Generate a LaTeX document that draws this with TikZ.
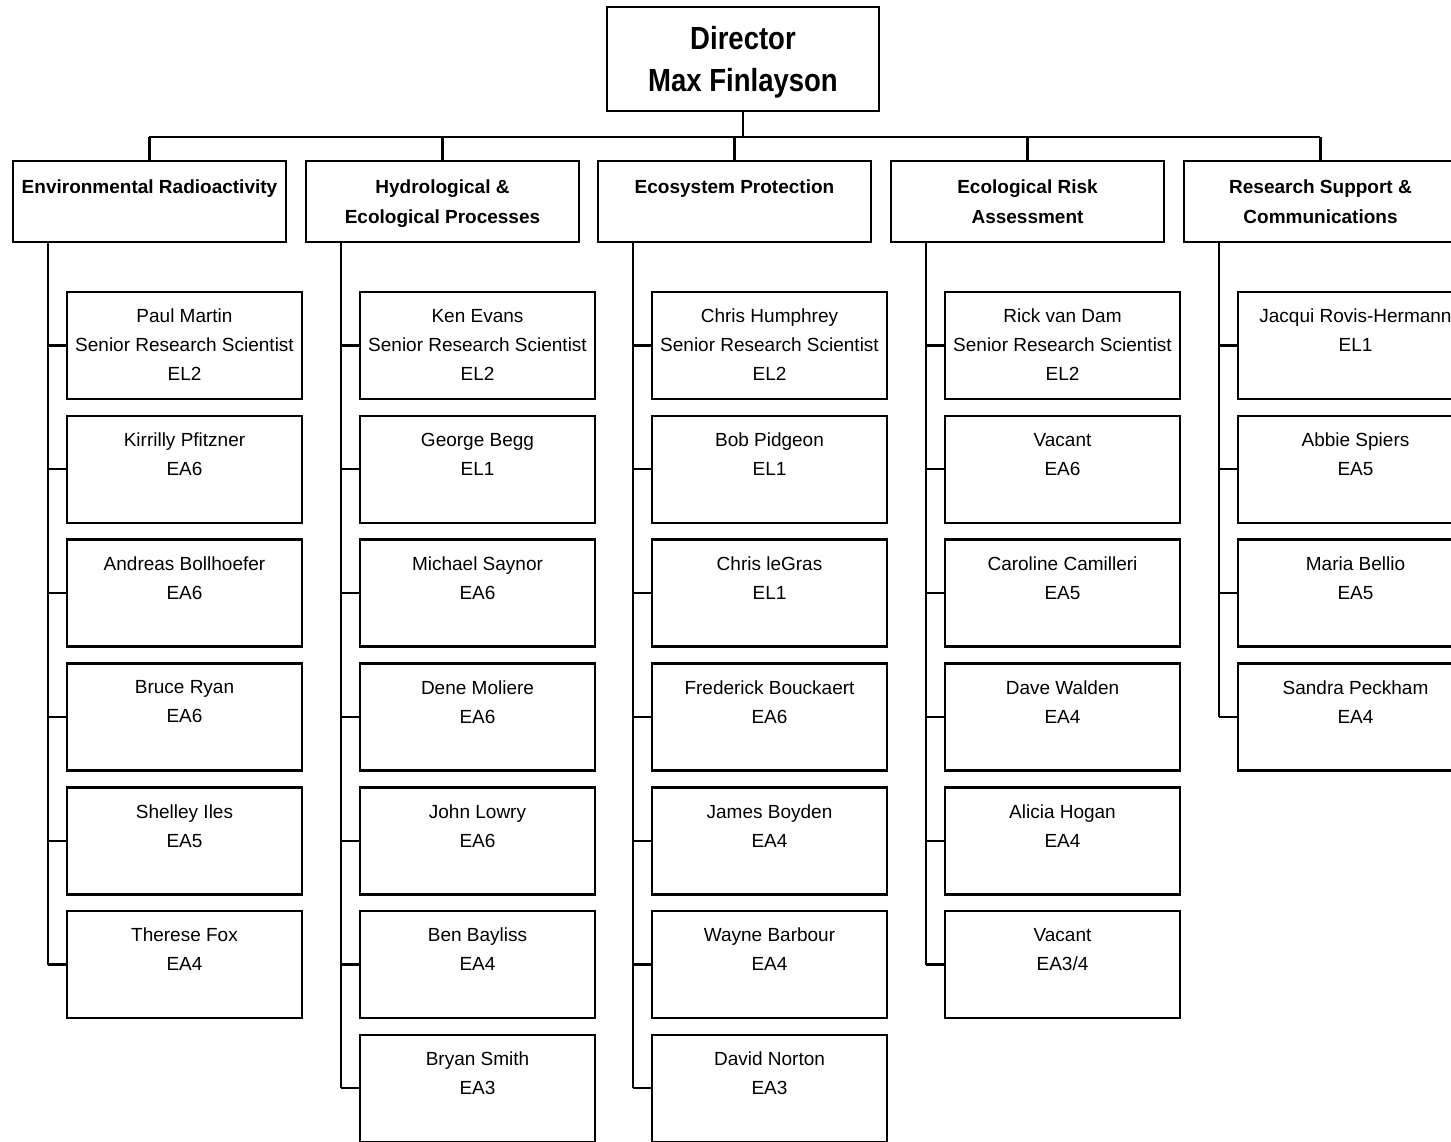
\documentclass[tikz,border=0pt]{standalone}
\usepackage{fontspec}
\setmainfont{Liberation Sans}
\newfontfamily\dirfont[FakeStretch=0.86]{Liberation Sans}
\begin{document}
\begin{tikzpicture}[x=1pt,y=-1pt,
  box/.style={draw, line width=2.6pt, inner sep=0pt, outer sep=0pt, rectangle},
  dirbox/.style={box, minimum width=272pt, minimum height=104pt},
  dirtxt/.style={inner sep=0pt, align=center, font=\dirfont\bfseries\fontsize{32}{42}\selectfont},
  deptbox/.style={box, minimum width=273pt, minimum height=81pt, anchor=north west},
  kidbox/.style={box, minimum width=235pt, minimum height=107pt, anchor=north west},
  depttxt/.style={anchor=north, inner sep=0pt, align=center, font=\bfseries\fontsize{19}{30}\selectfont},
  kidtxt/.style={anchor=north, inner sep=0pt, align=center, font=\fontsize{19}{29}\selectfont},
  wire/.style={line width=2.2pt}]
\useasboundingbox (0,0) rectangle (1451,1142);
\clip (0,0) rectangle (1451,1142);

% Director
\node[dirbox] (dir) at (743,59) {};
\node[dirtxt] (dirt) at ([yshift=-3pt]dir.center) {Director\\Max Finlayson};

% Departments
\node[deptbox] (d1) at (13,161) {};
\node[deptbox] (d2) at (306,161) {};
\node[deptbox] (d3) at (598,161) {};
\node[deptbox] (d4) at (891,161) {};
\node[deptbox] (d5) at (1184,161) {};
\node[depttxt] (d1t) at ([yshift=-19pt]d1.north) {Environmental Radioactivity};
\node[depttxt] (d2t) at ([yshift=-19pt]d2.north) {Hydrological \&\\Ecological Processes};
\node[depttxt] (d3t) at ([yshift=-19pt]d3.north) {Ecosystem Protection};
\node[depttxt] (d4t) at ([yshift=-19pt]d4.north) {Ecological Risk\\Assessment};
\node[depttxt] (d5t) at ([yshift=-19pt]d5.north) {Research Support \&\\Communications};

% Bus
\coordinate (busL) at (149,137);
\coordinate (busR) at (1320,137);
\draw[wire] (busL) -- (busR);
\draw[wire] (dir.south) -- (dir.south |- busL);
\foreach \d in {d1,d2,d3,d4,d5}{
  \draw[wire] (\d.north) -- (\d.north |- busL);
}

% Trunk start points
\foreach \d in {1,...,5}{
  \coordinate (t\d) at ([xshift=35pt]d\d.south west);
}

% Column 1
\foreach [count=\i] \t in {{Paul Martin\\Senior Research Scientist\\EL2},{Kirrilly Pfitzner\\EA6},{Andreas Bollhoefer\\EA6},{Bruce Ryan\\EA6},{Shelley Iles\\EA5},{Therese Fox\\EA4}}{
  \node[kidbox] (k1-\i) at (67,{292+123.8*(\i-1)}) {};
  \node[kidtxt] (k1-\i-t) at ([yshift=-17pt]k1-\i.north) {\t};
  \draw[wire] (k1-\i.west) -- (k1-\i.west -| t1);
}
\draw[wire] (t1) -- (t1 |- k1-6.west);

% Column 2
\foreach [count=\i] \t in {{Ken Evans\\Senior Research Scientist\\EL2},{George Begg\\EL1},{Michael Saynor\\EA6},{Dene Moliere\\EA6},{John Lowry\\EA6},{Ben Bayliss\\EA4},{Bryan Smith\\EA3}}{
  \node[kidbox] (k2-\i) at (360,{292+123.8*(\i-1)}) {};
  \node[kidtxt] (k2-\i-t) at ([yshift=-17pt]k2-\i.north) {\t};
  \draw[wire] (k2-\i.west) -- (k2-\i.west -| t2);
}
\draw[wire] (t2) -- (t2 |- k2-7.west);

% Column 3
\foreach [count=\i] \t in {{Chris Humphrey\\Senior Research Scientist\\EL2},{Bob Pidgeon\\EL1},{Chris leGras\\EL1},{Frederick Bouckaert\\EA6},{James Boyden\\EA4},{Wayne Barbour\\EA4},{David Norton\\EA3}}{
  \node[kidbox] (k3-\i) at (652,{292+123.8*(\i-1)}) {};
  \node[kidtxt] (k3-\i-t) at ([yshift=-17pt]k3-\i.north) {\t};
  \draw[wire] (k3-\i.west) -- (k3-\i.west -| t3);
}
\draw[wire] (t3) -- (t3 |- k3-7.west);

% Column 4
\foreach [count=\i] \t in {{Rick van Dam\\Senior Research Scientist\\EL2},{Vacant\\EA6},{Caroline Camilleri\\EA5},{Dave Walden\\EA4},{Alicia Hogan\\EA4},{Vacant\\EA3/4}}{
  \node[kidbox] (k4-\i) at (945,{292+123.8*(\i-1)}) {};
  \node[kidtxt] (k4-\i-t) at ([yshift=-17pt]k4-\i.north) {\t};
  \draw[wire] (k4-\i.west) -- (k4-\i.west -| t4);
}
\draw[wire] (t4) -- (t4 |- k4-6.west);

% Column 5
\foreach [count=\i] \t in {{Jacqui Rovis-Hermann\\EL1},{Abbie Spiers\\EA5},{Maria Bellio\\EA5},{Sandra Peckham\\EA4}}{
  \node[kidbox] (k5-\i) at (1238,{292+123.8*(\i-1)}) {};
  \node[kidtxt] (k5-\i-t) at ([yshift=-17pt]k5-\i.north) {\t};
  \draw[wire] (k5-\i.west) -- (k5-\i.west -| t5);
}
\draw[wire] (t5) -- (t5 |- k5-4.west);
\end{tikzpicture}
\end{document}
